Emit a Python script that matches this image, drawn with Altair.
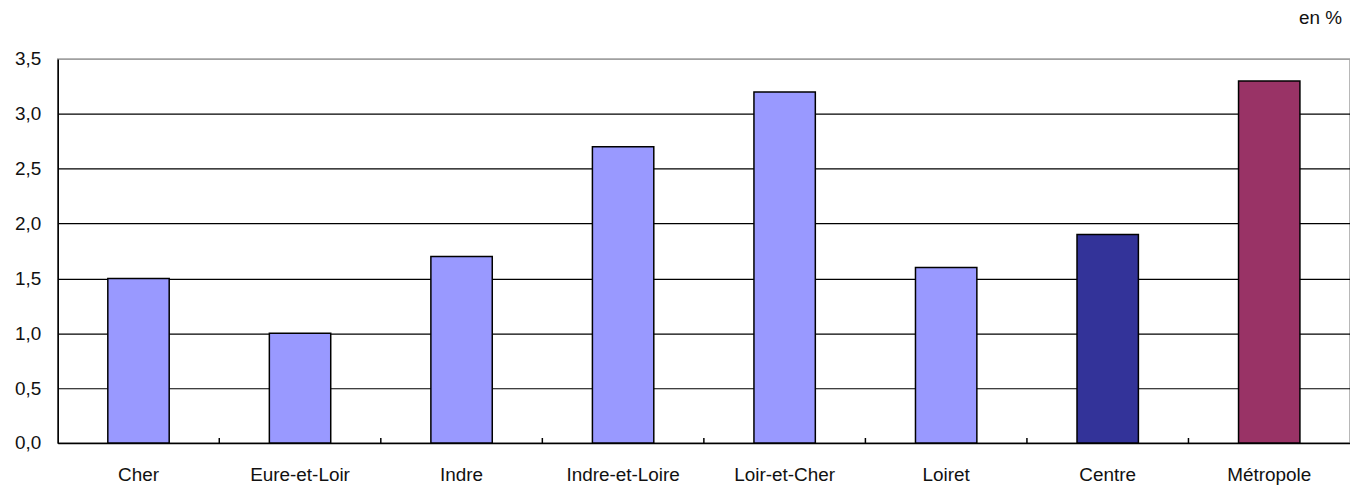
import altair as alt
import pandas as pd

categories = ["Cher", "Eure-et-Loir", "Indre", "Indre-et-Loire", "Loir-et-Cher", "Loiret", "Centre", "Métropole"]
values = [1.5, 1.0, 1.7, 2.7, 3.2, 1.6, 1.9, 3.3]
groups = ["Département"] * 6 + ["Région", "France"]
group_names = ["Département", "Région", "France"]
group_colors = ["#9999FF", "#333399", "#993366"]
y_ticks = [0.0, 0.5, 1.0, 1.5, 2.0, 2.5, 3.0, 3.5]

df = pd.DataFrame({"cat": categories, "val": values, "grp": groups})
bounds = pd.DataFrame({"b": list(range(1, len(categories)))})

FONT = "Liberation Sans"
FS = 19

bars = alt.Chart(df).mark_bar(stroke="black", strokeWidth=1.5).encode(
    x=alt.X("cat:N", sort=categories, title=None,
            scale=alt.Scale(paddingInner=0.62, paddingOuter=0.31),
            axis=alt.Axis(labelAngle=0, labelPadding=23, labelFontSize=FS, labelFont=FONT,
                          labelColor="#111", ticks=False, domainColor="black", domainWidth=1.5)),
    y=alt.Y("val:Q", title=None,
            scale=alt.Scale(domain=[0, 3.5], nice=False),
            axis=alt.Axis(values=y_ticks, labelExpr="replace(format(datum.value, '.1f'), '.', ',')",
                          labelFontSize=FS, labelFont=FONT, labelColor="#111", labelPadding=17,
                          ticks=False, domainColor="black", domainWidth=1.5,
                          gridColor={"condition": {"test": "datum.value >= 3.5", "value": "#a0a0a0"}, "value": "black"},
                          gridWidth=1.2, gridOpacity=1)),
    color=alt.Color("grp:N", scale=alt.Scale(domain=group_names, range=group_colors), legend=None),
)

ticks = alt.Chart(bounds).mark_rule(color="black", strokeWidth=1.5).encode(
    x=alt.X("b:Q", scale=alt.Scale(domain=[0, len(categories)], nice=False), axis=None),
    y=alt.value(386),
    y2=alt.value(381),
)

chart = alt.layer(bars, ticks).resolve_scale(x="independent").properties(
    width=1299, height=386,
    padding={"left": 50, "top": 50, "right": 0, "bottom": 41},
    autosize=alt.AutoSizeParams(type="none"),
    title=alt.TitleParams("en %", anchor="end", fontSize=FS, font=FONT, fontWeight="normal",
                          color="#111", offset=22, dx=-8),
).configure_view(stroke="#a0a0a0", strokeWidth=1.5).configure_axis(grid=True)

chart = chart.configure_axisX(grid=False)

chart.save("out.html", embed_options={"renderer": "svg", "actions": False})
